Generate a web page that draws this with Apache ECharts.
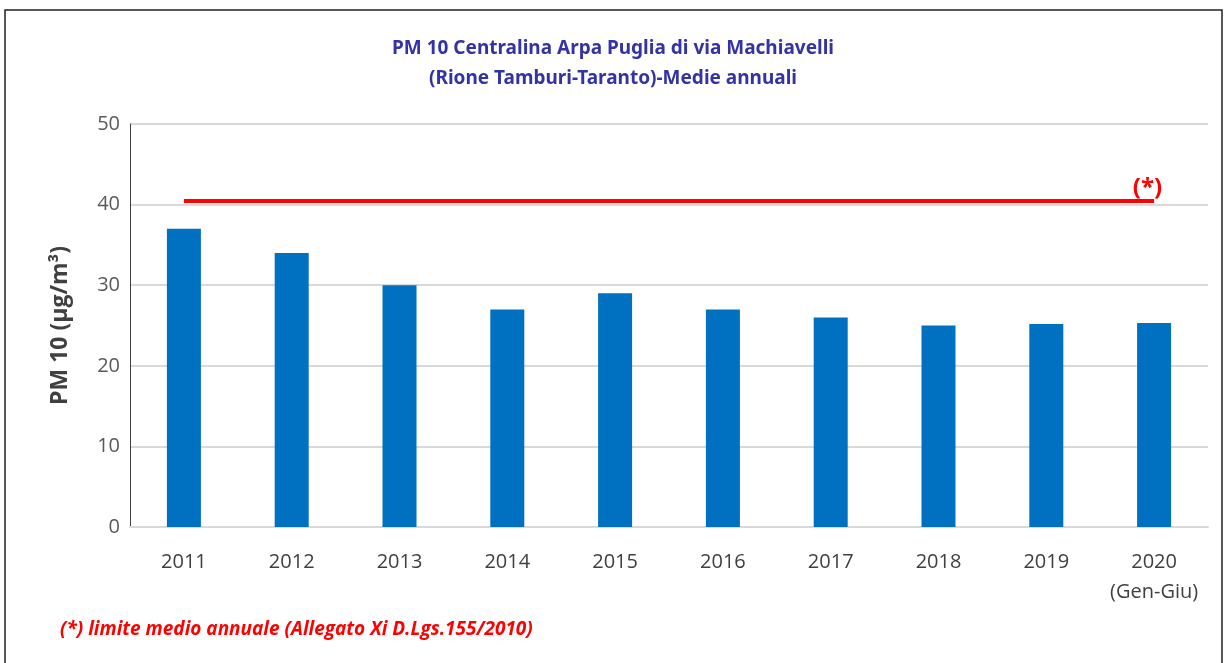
<!DOCTYPE html>
<html lang="it">
<head>
    <meta charset="UTF-8">
    <title>PM 10 via Machiavelli</title>
    <script src="https://cdn.jsdelivr.net/npm/echarts@6/dist/echarts.min.js"></script>
    <style>
        html, body { margin: 0; padding: 0; background: #fff; }
        #main { width: 1226px; height: 663px; }
    </style>
</head>
<body>
    <div id="main"></div>
    <script type="text/javascript">
        // dati
        var anni = ['2011', '2012', '2013', '2014', '2015', '2016', '2017', '2018', '2019', '2020\n(Gen-Giu)'];
        var medie = [37, 34, 30, 27, 29, 27, 26, 25, 25.2, 25.3];
        var limite = [40.5];
        var tickY = [0, 10, 20, 30, 40, 50];

        var myChart = echarts.init(document.getElementById('main'));
        myChart.setOption({
            animation: false,
            textStyle: { fontFamily: 'Open Sans, sans-serif' },
            title: {
                text: 'PM 10 Centralina Arpa Puglia di via Machiavelli\n(Rione Tamburi-Taranto)-Medie annuali',
                left: 'center',
                top: 29,
                textStyle: {
                    color: '#3333a6',
                    fontSize: 19,
                    fontWeight: 'bold',
                    lineHeight: 30,
                    fontFamily: 'Noto Sans, sans-serif'
                }
            },
            graphic: [
                {
                    type: 'rect',
                    shape: { x: 5, y: 10, width: 1217, height: 670 },
                    style: { fill: 'none', stroke: '#222', lineWidth: 1.5 },
                    silent: true
                },
                {
                    type: 'text',
                    left: 60,
                    top: 620,
                    style: {
                        text: '(*) limite medio annuale (Allegato Xi D.Lgs.155/2010)',
                        fill: '#ff0000',
                        font: 'italic bold 19px Open Sans, sans-serif'
                    }
                }
            ],
            grid: { left: 130, right: 18, top: 124, bottom: 136 },
            xAxis: {
                type: 'category',
                data: anni,
                axisTick: { show: false },
                axisLine: { lineStyle: { color: '#d9d9d9', width: 2 } },
                axisLabel: { interval: 0, color: '#404040', fontSize: 20, margin: 20, lineHeight: 30 }
            },
            yAxis: {
                type: 'value',
                min: tickY[0],
                max: tickY[tickY.length - 1],
                interval: 10,
                name: 'PM 10 (µg/m³)',
                nameLocation: 'middle',
                nameGap: 58,
                nameTextStyle: { color: '#404040', fontSize: 23, fontWeight: 'bold' },
                axisLine: { show: true, lineStyle: { color: '#404040', width: 1 } },
                axisTick: { show: false },
                axisLabel: { color: '#595959', fontSize: 20, margin: 10 },
                splitLine: { lineStyle: { color: '#d9d9d9', width: 2 } }
            },
            series: [{
                name: 'PM 10',
                type: 'bar',
                data: medie,
                barWidth: 34,
                itemStyle: { color: '#0070c0' },
                markLine: {
                    silent: true,
                    symbol: 'none',
                    lineStyle: { color: '#ff0000', width: 4, type: 'solid' },
                    label: {
                        show: true,
                        position: 'insideEndTop',
                        formatter: '(*)',
                        color: '#ff0000',
                        fontSize: 24,
                        fontWeight: 'bold',
                        distance: [-8, 0]
                    },
                    data: [[
                        { xAxis: anni[0], yAxis: limite[0] },
                        { xAxis: anni[anni.length - 1], yAxis: limite[0] }
                    ]]
                }
            }]
        });
    </script>
</body>
</html>
